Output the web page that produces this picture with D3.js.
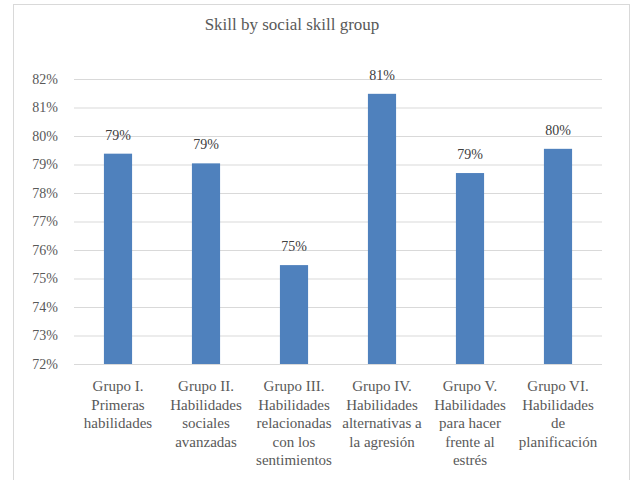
<!DOCTYPE html>
<html>
<head>
<meta charset="utf-8">
<script src="https://cdn.jsdelivr.net/npm/d3@7"></script>
</head>
<body style="margin:0;background:#fff">
<svg id="chart" width="631" height="480" style="display:block"></svg>
<script>
const title = "Skill by social skill group";
const categories = [
  "Grupo I.\nPrimeras\nhabilidades",
  "Grupo II.\nHabilidades\nsociales\navanzadas",
  "Grupo III.\nHabilidades\nrelacionadas\ncon los\nsentimientos",
  "Grupo IV.\nHabilidades\nalternativas a\nla agresión",
  "Grupo V.\nHabilidades\npara hacer\nfrente al\nestrés",
  "Grupo VI.\nHabilidades\nde\nplanificación"
];
const values = [0.7938, 0.7904, 0.7547, 0.8148, 0.7870, 0.7955];
const yTicks = [0.72, 0.73, 0.74, 0.75, 0.76, 0.77, 0.78, 0.79, 0.80, 0.81, 0.82];

const svg = d3.select("#chart");
const FONT = '"Liberation Serif", "Times New Roman", Tinos';
const textColor = "#595959";

function serif(sel, size) {
  sel.style("font-family", FONT, "important")
     .style("font-size", size + "px", "important");
  return sel;
}

svg.append("rect").attr("x", 0).attr("y", 0).attr("width", 631).attr("height", 480).attr("fill", "#fff");
svg.append("rect")
  .attr("x", 13.5).attr("y", 4.5).attr("width", 616).attr("height", 520)
  .attr("fill", "none").attr("stroke", "#d9d9d9").attr("stroke-width", 1);

const x = d3.scaleBand().domain(categories).range([74, 602]).paddingInner(0.68).paddingOuter(0.34);
const y = d3.scaleLinear().domain([0.72, 0.82]).range([364, 79]);
const pct = d3.format(".0%");

// gridlines + y labels
const yAxis = d3.axisLeft(y).tickValues(yTicks).tickFormat(pct).tickSize(-(602 - 74)).tickPadding(16);
const gy = svg.append("g").attr("transform", "translate(74,0)").call(yAxis);
gy.select(".domain").remove();
gy.selectAll(".tick line").attr("stroke", "#d9d9d9").attr("stroke-width", 1.2);
serif(gy.selectAll(".tick text"), 14).attr("fill", textColor);

// bars
svg.append("g").selectAll("rect").data(values).join("rect")
  .attr("x", (d, i) => x(categories[i]))
  .attr("width", x.bandwidth())
  .attr("y", d => y(d))
  .attr("height", d => y(0.72) - y(d))
  .attr("fill", "#4f81bd");

// value labels
serif(svg.append("g").selectAll("text").data(values).join("text"), 14)
  .attr("x", (d, i) => x(categories[i]) + x.bandwidth() / 2)
  .attr("y", d => y(d) - 14)
  .attr("text-anchor", "middle")
  .attr("fill", "#404040")
  .text(d => pct(d));

// category labels
const xAxis = d3.axisBottom(x).tickSize(0).tickFormat("");
const gx = svg.append("g").attr("transform", "translate(0,364)").call(xAxis);
gx.select(".domain").remove();
gx.selectAll(".tick").each(function(d) {
  const t = serif(d3.select(this).append("text"), 15)
    .attr("text-anchor", "middle")
    .attr("fill", textColor);
  d.split("\n").forEach((line, j) => {
    t.append("tspan").attr("x", 0).attr("y", 27 + j * 18.5).text(line);
  });
});

// title
serif(svg.append("text"), 17)
  .attr("x", 292).attr("y", 30)
  .attr("text-anchor", "middle")
  .attr("fill", textColor)
  .text(title);
</script>
</body>
</html>
